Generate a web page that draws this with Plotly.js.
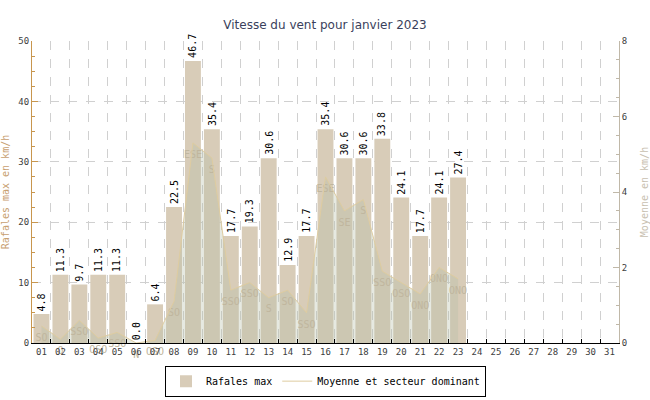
<!DOCTYPE html>
<html>
<head>
<meta charset="utf-8">
<script src="https://cdn.plot.ly/plotly-3.0.1.min.js"></script>
<style>html,body{margin:0;padding:0;background:#fff;}#chart{width:650px;height:400px;}</style>
</head>
<body>
<div id="chart"></div>
<script>
var days = ["01","02","03","04","05","06","07","08","09","10","11","12","13","14","15","16","17","18","19","20","21","22","23","24","25","26","27","28","29","30","31"];
var gusts = [4.8,11.3,9.7,11.3,11.3,0.0,6.4,22.5,46.7,35.4,17.7,19.3,30.6,12.9,17.7,35.4,30.6,30.6,33.8,24.1,17.7,24.1,27.4];
var avgSpeed = [0.45,0.1,0.6,0.13,0.28,0.0,0.07,1.1,5.3,4.9,1.4,1.6,1.2,1.4,0.8,4.4,3.5,3.8,1.9,1.6,1.3,2.0,1.7];
var sectors = ["SO","O","SSO","OSO","SSO","N","OSO","SO","ESE","S","SSO","SSO","S","SO","SSO","ESE","SE","S","SSO","OSO","ONO","ONO","ONO"];

var dataDays = days.slice(0, gusts.length);
var mono = "DejaVu Sans Mono, monospace";

var traces = [
  {
    type: "bar", name: "Rafales max", x: dataDays, y: gusts,
    marker: {color: "#d8ccb8", line: {width: 0}},
    hoverinfo: "skip"
  },
  {
    type: "scatter", mode: "lines", x: dataDays, y: avgSpeed, yaxis: "y2",
    fill: "tozeroy", fillcolor: "rgba(182,190,168,0.34)", line: {width: 0, color: "rgba(0,0,0,0)"},
    showlegend: false, hoverinfo: "skip"
  },
  {
    type: "scatter", mode: "markers+text", x: dataDays, y: avgSpeed, yaxis: "y2",
    text: sectors, textposition: "bottom center", cliponaxis: false,
    marker: {size: 10, opacity: 0},
    textfont: {family: mono, size: 10, color: "rgb(192,182,158)"},
    showlegend: false, hoverinfo: "skip"
  },
  {
    type: "scatter", mode: "lines", name: "Moyenne et secteur dominant", x: dataDays, y: avgSpeed, yaxis: "y2",
    line: {width: 1, color: "rgb(222,204,160)"},
    hoverinfo: "skip"
  }
];

var annotations = gusts.map(function(v, i){
  return {
    x: i, y: v, xref: "x", yref: "y", text: v.toFixed(1),
    showarrow: false, textangle: -90, xanchor: "center", yanchor: "bottom", yshift: 1,
    font: {family: mono, size: 10, color: "#000"}
  };
});

var layout = {
  width: 650, height: 400,
  margin: {l: 31.5, r: 31, t: 41, b: 57, autoexpand: false},
  paper_bgcolor: "#fff", plot_bgcolor: "#fff",
  font: {family: mono, size: 9, color: "#404040"},
  title: {text: "Vitesse du vent pour janvier 2023", font: {family: "DejaVu Sans, sans-serif", size: 12, color: "#3a3f5c"}, x: 0.5, xanchor: "center", y: 0.937, yanchor: "middle"},
  bargap: 0.16,
  showlegend: true,
  annotations: annotations,
  legend: {orientation: "h", x: 0.5, xanchor: "center", y: -0.075, yanchor: "top",
    bordercolor: "#000", borderwidth: 1, bgcolor: "#fff", itemwidth: 30,
    font: {family: mono, size: 10, color: "#000"}},
  xaxis: {
    type: "category", categoryorder: "array", categoryarray: days, range: [-0.5, 30.5],
    tickson: "boundaries", ticks: "inside", ticklen: 4, tickcolor: "#000", tickangle: 0,
    showline: true, linecolor: "#000", linewidth: 1,
    showgrid: true, gridcolor: "#d0d0d0", griddash: "dash", gridwidth: 1,
    tickfont: {family: mono, size: 9, color: "#404040"}, fixedrange: true
  },
  yaxis: {
    range: [0, 50], dtick: 10, ticks: "inside", ticklen: 6, tickcolor: "#c8964e",
    showline: true, linecolor: "#c8964e", linewidth: 1,
    minor: {dtick: 2.5, ticks: "inside", ticklen: 3, tickcolor: "#c8964e", showgrid: false},
    showgrid: true, gridcolor: "#d0d0d0", griddash: "dash", zeroline: false,
    title: {text: "Rafales max en km/h", font: {family: mono, size: 10, color: "#c8a070"}, standoff: 8},
    tickfont: {family: mono, size: 9, color: "#404040"}, fixedrange: true
  },
  yaxis2: {
    overlaying: "y", side: "right", range: [0, 8], dtick: 2,
    ticks: "inside", ticklen: 6, tickcolor: "#c0b8a8",
    showline: true, linecolor: "#c0b8a8", linewidth: 1,
    minor: {dtick: 0.5, ticks: "inside", ticklen: 3, tickcolor: "#c0b8a8", showgrid: false},
    showgrid: false, zeroline: false,
    title: {text: "Moyenne en km/h", font: {family: mono, size: 10, color: "#c8c0b0"}, standoff: 14},
    tickfont: {family: mono, size: 9, color: "#404040"}, fixedrange: true
  }
};

Plotly.newPlot("chart", traces, layout, {displayModeBar: false, staticPlot: true});
</script>
</body>
</html>
